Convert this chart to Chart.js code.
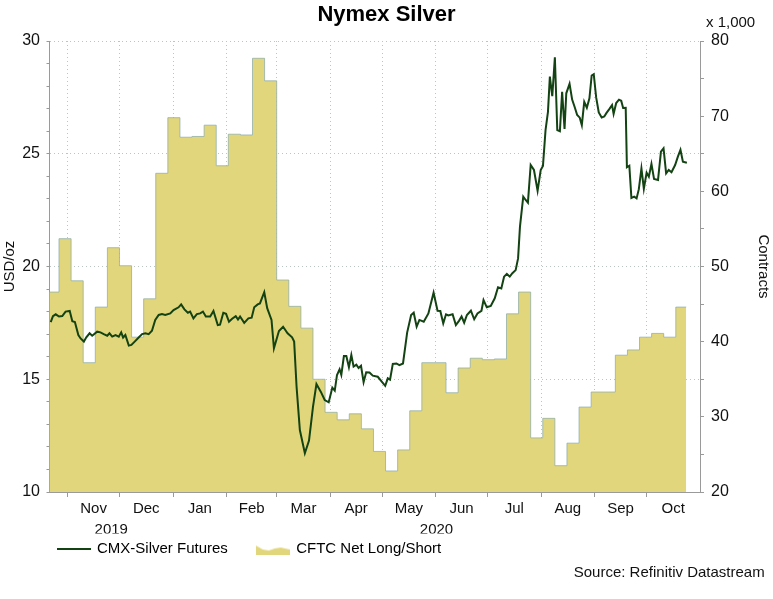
<!DOCTYPE html>
<html>
<head>
<meta charset="utf-8">
<title>Nymex Silver</title>
<script src="https://cdn.jsdelivr.net/npm/chart.js@4.4.0/dist/chart.umd.min.js"></script>
<style>
  html, body { margin: 0; padding: 0; background: #fff; }
  #wrap { width: 773px; height: 599px; }
</style>
</head>
<body>
<div id="wrap"><canvas id="silverChart" width="773" height="599"></canvas></div>
<script>
// all x values are days counted from 1 Nov 2019
const BASE = Date.UTC(2019, 10, 1);
const dayOf = s => (Date.parse(s) - BASE) / 86400000;

const xMinDay = -10.5;               // ~21 Oct 2019
const xMaxDay = dayOf('2020-11-01');

const monthNames = ['Nov', 'Dec', 'Jan', 'Feb', 'Mar', 'Apr', 'May', 'Jun', 'Jul', 'Aug', 'Sep', 'Oct'];
const monthStarts = ['2019-11-01', '2019-12-01', '2020-01-01', '2020-02-01', '2020-03-01', '2020-04-01',
  '2020-05-01', '2020-06-01', '2020-07-01', '2020-08-01', '2020-09-01', '2020-10-01', '2020-11-01'];
const yearNames = ['2019', '2020'];
const yearStarts = [xMinDay, dayOf('2020-01-01'), xMaxDay];

const usdTicks = [10, 15, 20, 25, 30];
const contractTicks = [20, 30, 40, 50, 60, 70, 80];

// CMX-Silver Futures, USD/oz
const silverDays = [
  -9.8, -8.5, -6.9, -5.0, -3.1, -1.2, 1.2, 2.7, 4.2, 6.2,
  7.5, 9.4, 10.8, 12.7, 14.2, 17.1, 19.0, 20.9, 22.9, 24.2,
  25.8, 27.7, 29.6, 31.0, 32.1, 33.4, 35.4, 36.9, 38.8, 41.1,
  43.1, 45.0, 46.9, 48.8, 50.7, 52.7, 54.6, 56.5, 59.4, 61.3,
  64.2, 65.7, 67.6, 69.6, 70.9, 72.8, 74.8, 76.7, 78.3, 80.0,
  82.5, 84.4, 86.9, 88.2, 90.1, 91.7, 93.4, 95.2, 97.3, 98.6,
  99.8, 102.2, 104.6, 106.5, 108.0, 110.0, 111.3, 113.8, 115.5, 118.0,
  119.4, 122.3, 124.7, 127.3, 129.9, 131.1, 132.5, 134.4, 137.3, 139.7,
  142.0, 144.0, 146.5, 148.8, 151.1, 153.2, 154.6, 155.9, 157.4, 158.4,
  159.9, 161.3, 162.8, 164.2, 165.5, 167.1, 168.4, 169.8, 171.3, 172.8,
  174.7, 176.6, 179.5, 181.8, 183.8, 185.3, 186.6, 188.2, 190.3, 192.0,
  194.1, 196.5, 198.8, 200.3, 202.0, 203.6, 206.1, 208.8, 211.8, 214.1,
  215.7, 217.4, 219.0, 220.3, 222.8, 224.7, 226.6, 228.0, 229.5, 231.1,
  233.4, 235.3, 237.2, 239.5, 240.7, 242.6, 244.9, 247.2, 249.1, 251.0,
  252.6, 254.2, 255.9, 257.4, 259.3, 260.7, 261.8, 263.7, 265.1, 266.4,
  268.0, 269.9, 272.0, 273.8, 275.1, 276.6, 278.0, 279.1, 280.5, 282.0,
  283.4, 284.9, 286.2, 287.6, 288.6, 290.5, 292.0, 293.5, 294.9, 296.4,
  297.6, 299.0, 300.5, 302.0, 303.3, 304.5, 305.9, 307.4, 309.1, 310.6,
  311.8, 313.7, 315.1, 316.0, 317.5, 319.1, 320.4, 321.5, 323.0, 323.7,
  325.1, 326.3, 327.9, 329.3, 330.6, 332.1, 333.5, 335.1, 336.4, 337.9,
  339.4, 341.7, 343.4, 344.9, 346.4, 347.9, 349.5, 351.6, 353.2, 354.7,
  356.1, 358.4
];
const silverValues = [
  17.53, 17.80, 17.88, 17.78, 17.80, 18.00, 18.03, 17.57, 17.54, 16.96,
  16.81, 16.67, 16.86, 17.04, 16.93, 17.11, 17.08, 17.00, 16.93, 17.04,
  16.89, 16.96, 16.89, 17.08, 16.85, 16.96, 16.49, 16.52, 16.67, 16.85,
  17.00, 17.04, 17.00, 17.15, 17.63, 17.85, 17.89, 17.85, 17.92, 18.07,
  18.19, 18.32, 18.10, 17.95, 18.00, 17.70, 17.89, 17.92, 18.00, 17.78,
  17.78, 18.03, 17.40, 17.42, 17.95, 17.90, 17.55, 17.68, 17.80, 17.65,
  17.78, 17.50, 17.70, 17.73, 18.19, 18.32, 18.36, 18.86, 18.15, 17.63,
  16.37, 17.14, 17.33, 17.04, 16.86, 16.67, 14.67, 12.75, 11.72, 12.28,
  13.78, 14.79, 14.45, 14.08, 13.98, 14.63, 14.50, 15.19, 15.44, 15.19,
  16.03, 16.03, 15.53, 16.08, 15.56, 15.65, 15.50, 15.60, 14.87, 15.31,
  15.30, 15.16, 15.11, 14.89, 14.71, 15.04, 14.98, 15.68, 15.70, 15.63,
  15.70, 17.07, 17.85, 17.95, 17.33, 17.63, 17.55, 17.92, 18.84, 18.04,
  18.03, 17.48, 17.88, 17.83, 17.88, 17.40, 17.60, 17.78, 17.51, 17.85,
  18.04, 17.66, 17.92, 18.03, 18.51, 18.19, 18.25, 18.59, 19.08, 19.03,
  19.55, 19.67, 19.55, 19.70, 19.84, 20.36, 21.77, 23.10, 22.95, 22.83,
  24.50, 24.28, 23.36, 24.28, 24.46, 26.05, 26.86, 28.42, 27.55, 29.28,
  26.05, 26.00, 27.75, 26.10, 27.68, 28.10, 27.40, 27.06, 26.72, 26.60,
  26.27, 27.30, 27.04, 27.46, 28.47, 28.53, 27.50, 26.83, 26.61, 26.65,
  26.80, 27.00, 27.16, 26.77, 27.25, 27.40, 27.35, 27.03, 27.04, 24.40,
  24.47, 23.04, 23.10, 23.02, 23.43, 24.35, 23.45, 24.16, 23.98, 24.55,
  23.88, 23.84, 25.09, 25.24, 24.13, 24.28, 24.18, 24.50, 24.87, 25.17,
  24.65, 24.60
];

// CFTC Net Long/Short, thousand contracts, one value per week
const cftcCarryIn = 46.6;            // value running in from before the first week
const cftcFirstWeek = '2019-10-27';
const cftcLastDay = '2020-10-24';
const cftcValues = [
  53.7, 48.1, 37.2, 44.6, 52.5, 50.1, 40.6, 45.7, 62.4, 69.8,
  67.2, 67.3, 68.8, 63.4, 67.6, 67.5, 77.7, 74.7, 48.2, 44.7,
  41.8, 35.0, 30.6, 29.6, 30.4, 28.4, 25.4, 22.8, 25.6, 30.8,
  37.2, 37.2, 33.2, 36.5, 37.8, 37.6, 37.7, 43.7, 46.6, 27.2,
  29.8, 23.5, 26.5, 31.3, 33.3, 33.3, 38.2, 38.9, 40.6, 41.1,
  40.6, 44.6
];

const SILVER_COLOR = '#134213';
const CFTC_FILL = '#e2d67c';
const CFTC_EDGE = 'rgba(140,172,168,0.75)';
const GRID_COLOR = '#bcc6c0';
const AXIS_COLOR = '#9a9a9a';
const TEXT_COLOR = '#111';
const FONT = 'Liberation Sans, Arial, Helvetica, sans-serif';

const silverPoints = silverDays.map((d, i) => ({ x: d, y: silverValues[i] }));
const firstWeek = dayOf(cftcFirstWeek);
const cftcPoints = [{ x: xMinDay - 2, y: cftcCarryIn }]
  .concat(cftcValues.map((v, i) => ({ x: firstWeek + 7 * i, y: v })))
  .concat([{ x: dayOf(cftcLastDay), y: cftcValues[cftcValues.length - 1] }]);

// x ticks: month boundaries carry the grid, mid-months and year spans carry labels
const xTickInfo = new Map();
const addTick = (value, props) => {
  const cur = xTickInfo.get(value) || { grid: false, label: '' };
  xTickInfo.set(value, Object.assign(cur, props));
};
const monthDays = monthStarts.map(dayOf);
monthNames.forEach((name, i) => {
  addTick(monthDays[i], { grid: true });
  addTick((monthDays[i] + monthDays[i + 1]) / 2, { label: name });
});
yearNames.forEach((name, i) => {
  addTick((yearStarts[i] + yearStarts[i + 1]) / 2, { label: ['', name] });
});

function lineIcon() {
  const c = document.createElement('canvas');
  c.width = 34; c.height = 4;
  const g = c.getContext('2d');
  g.strokeStyle = SILVER_COLOR;
  g.lineWidth = 2;
  g.beginPath(); g.moveTo(0, 2); g.lineTo(34, 2); g.stroke();
  return c;
}

function areaIcon() {
  const c = document.createElement('canvas');
  c.width = 34; c.height = 11;
  const g = c.getContext('2d');
  g.fillStyle = CFTC_FILL;
  g.beginPath();
  g.moveTo(0, 11); g.lineTo(0, 2); g.lineTo(7, 6); g.lineTo(13, 7); g.lineTo(19, 5);
  g.lineTo(25, 4); g.lineTo(34, 6); g.lineTo(34, 11);
  g.closePath(); g.fill();
  return c;
}

const unitLabel = {
  id: 'unitLabel',
  afterDraw(chart) {
    const { ctx } = chart;
    ctx.save();
    ctx.font = '15px ' + FONT;
    ctx.fillStyle = TEXT_COLOR;
    ctx.textAlign = 'left';
    ctx.textBaseline = 'middle';
    ctx.fillText('x 1,000', chart.scales.y2.left + 6, 23);
    ctx.restore();
  }
};

new Chart(document.getElementById('silverChart'), {
  type: 'line',
  data: {
    datasets: [{
      label: 'CMX-Silver Futures',
      data: silverPoints,
      yAxisID: 'y',
      borderColor: SILVER_COLOR,
      borderWidth: 2,
      pointRadius: 0,
      tension: 0,
      fill: false,
      order: 0
    }, {
      label: 'CFTC Net Long/Short',
      data: cftcPoints,
      yAxisID: 'y2',
      stepped: true,
      borderColor: CFTC_EDGE,
      borderWidth: 1,
      backgroundColor: CFTC_FILL,
      pointRadius: 0,
      fill: 'start',
      order: 1
    }]
  },
  options: {
    responsive: false,
    animation: false,
    layout: { padding: 0 },
    scales: {
      x: {
        type: 'linear',
        min: xMinDay,
        max: xMaxDay,
        afterBuildTicks: scale => {
          scale.ticks = Array.from(xTickInfo.keys()).sort((a, b) => a - b).map(v => ({ value: v }));
        },
        afterFit: scale => { scale.height = 41.5; },
        ticks: {
          autoSkip: false,
          maxRotation: 0,
          padding: 1.5,
          color: TEXT_COLOR,
          font: { family: FONT, size: 15, lineHeight: 1.4 },
          callback: v => (xTickInfo.get(v) || { label: '' }).label
        },
        grid: {
          tickLength: 5,
          color: c => (c.tick && (xTickInfo.get(c.tick.value) || {}).grid) ? GRID_COLOR : 'rgba(0,0,0,0)',
          tickColor: c => (c.tick && (xTickInfo.get(c.tick.value) || {}).grid) ? AXIS_COLOR : 'rgba(0,0,0,0)'
        },
        border: { display: true, color: AXIS_COLOR, dash: [1, 3] }
      },
      y: {
        position: 'left',
        min: 10,
        max: 30,
        afterBuildTicks: scale => {
          const t = [];
          for (let v = 10; v <= 30; v++) t.push({ value: v });
          scale.ticks = t;
        },
        afterFit: scale => { scale.width = 49.5; },
        ticks: {
          autoSkip: false,
          padding: 6.5,
          color: TEXT_COLOR,
          font: { family: FONT, size: 16 },
          callback: v => usdTicks.includes(v) ? String(v) : ''
        },
        grid: {
          tickLength: 3,
          color: c => (c.tick && usdTicks.includes(c.tick.value) && c.tick.value !== 10) ? GRID_COLOR : 'rgba(0,0,0,0)',
          tickColor: AXIS_COLOR
        },
        border: { display: true, color: AXIS_COLOR, dash: [1, 3] },
        title: {
          display: true,
          text: 'USD/oz',
          color: TEXT_COLOR,
          font: { family: FONT, size: 15 },
          padding: { top: 1, bottom: 0 }
        }
      },
      y2: {
        position: 'right',
        min: 20,
        max: 80,
        afterBuildTicks: scale => {
          const t = [];
          for (let v = 20; v <= 80; v += 5) t.push({ value: v });
          scale.ticks = t;
        },
        afterFit: scale => { scale.width = 73; },
        ticks: {
          autoSkip: false,
          padding: 7,
          color: TEXT_COLOR,
          font: { family: FONT, size: 16 },
          callback: v => contractTicks.includes(v) ? String(v) : ''
        },
        grid: { drawOnChartArea: false, tickLength: 4, tickColor: AXIS_COLOR },
        border: { display: true, color: AXIS_COLOR },
        title: {
          display: true,
          text: 'Contracts',
          color: TEXT_COLOR,
          font: { family: FONT, size: 15 },
          padding: { top: 1, bottom: 0 }
        }
      }
    },
    plugins: {
      title: {
        display: true,
        text: 'Nymex Silver',
        color: '#000',
        font: { family: FONT, size: 22, weight: 'bold', lineHeight: 1 },
        padding: { top: 4, bottom: 15 }
      },
      subtitle: {
        display: true,
        position: 'bottom',
        align: 'end',
        text: 'Source: Refinitiv Datastream  ',
        color: TEXT_COLOR,
        font: { family: FONT, size: 15, lineHeight: 1 },
        padding: { top: 4, bottom: 18.5 }
      },
      legend: {
        position: 'bottom',
        align: 'start',
        fullSize: false,
        maxHeight: 28,
        labels: {
          usePointStyle: true,
          pointStyleWidth: 32,
          padding: 8,
          color: TEXT_COLOR,
          font: { family: FONT, size: 15 },
          generateLabels: () => [
            { text: 'CMX-Silver Futures     ', pointStyle: lineIcon(), fillStyle: SILVER_COLOR, strokeStyle: SILVER_COLOR, lineWidth: 0, hidden: false, datasetIndex: 0 },
            { text: 'CFTC Net Long/Short', pointStyle: areaIcon(), fillStyle: CFTC_FILL, strokeStyle: CFTC_FILL, lineWidth: 0, hidden: false, datasetIndex: 1 }
          ]
        }
      },
      tooltip: { enabled: false }
    }
  },
  plugins: [unitLabel]
});
</script>
</body>
</html>
